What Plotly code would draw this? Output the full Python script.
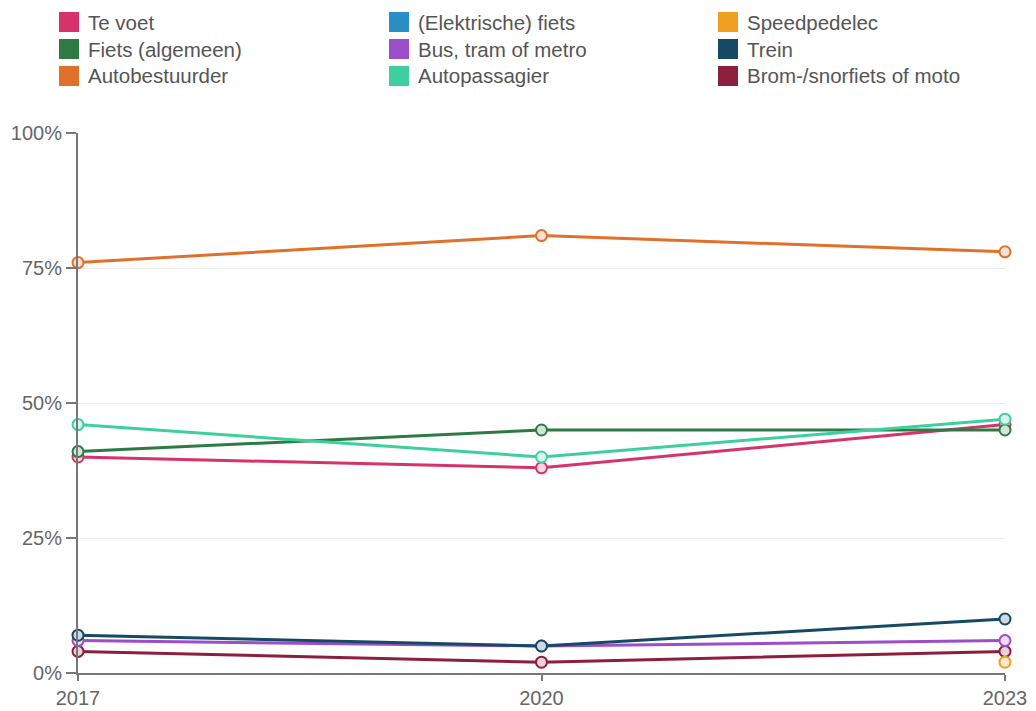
import plotly.graph_objects as go

years = [2017, 2020, 2023]

series_names = [
    "Te voet", "(Elektrische) fiets", "Speedpedelec",
    "Fiets (algemeen)", "Bus, tram of metro", "Trein",
    "Autobestuurder", "Autopassagier", "Brom-/snorfiets of moto",
]
te_voet = [40, 38, 46]
elektrische_fiets = [None, None, None]
speedpedelec = [None, None, 2]
fiets_algemeen = [41, 45, 45]
bus_tram_metro = [6, 5, 6]
trein = [7, 5, 10]
autobestuurder = [76, 81, 78]
autopassagier = [46, 40, 47]
brom_snorfiets = [4, 2, 4]

y_ticks = [0, 25, 50, 75, 100]
y_ticktext = ["0%", "25%", "50%", "75%", "100%"]

colors = {
    "Te voet": "#d6336c",
    "(Elektrische) fiets": "#2a8fc4",
    "Speedpedelec": "#f0a020",
    "Fiets (algemeen)": "#2e7a45",
    "Bus, tram of metro": "#9b4dca",
    "Trein": "#164a64",
    "Autobestuurder": "#e0702a",
    "Autopassagier": "#3ecf9e",
    "Brom-/snorfiets of moto": "#8c1f3e",
}

values = {
    "Te voet": te_voet,
    "(Elektrische) fiets": elektrische_fiets,
    "Speedpedelec": speedpedelec,
    "Fiets (algemeen)": fiets_algemeen,
    "Bus, tram of metro": bus_tram_metro,
    "Trein": trein,
    "Autobestuurder": autobestuurder,
    "Autopassagier": autopassagier,
    "Brom-/snorfiets of moto": brom_snorfiets,
}

# drawing order (later = on top)
draw_order = [
    "Brom-/snorfiets of moto", "Bus, tram of metro", "Trein", "Speedpedelec",
    "(Elektrische) fiets", "Te voet", "Fiets (algemeen)", "Autopassagier",
    "Autobestuurder",
]


def tint(hex_color, amount=0.8):
    r, g, b = (int(hex_color[i:i + 2], 16) for i in (1, 3, 5))
    r, g, b = (round(c + (255 - c) * amount) for c in (r, g, b))
    return f"rgb({r},{g},{b})"


FONT = "Liberation Sans, Arial, sans-serif"
W, H = 1036, 711
L, R, T, B = 78, 31, 133, 38
PW, PH = W - L - R, H - T - B


def px_x(px):
    return (px - L) / PW


def px_y(py):
    return (H - B - py) / PH


fig = go.Figure()

for name in draw_order:
    c = colors[name]
    fig.add_trace(go.Scatter(
        x=years, y=values[name], name=name, mode="lines+markers",
        line=dict(color=c, width=3),
        marker=dict(size=11, color=tint(c), line=dict(color=c, width=2)),
        showlegend=False, cliponaxis=False,
    ))

# manual legend: 3 columns, row-major
col_x = [59, 389, 718]
row_y = [22, 49, 76]
for i, name in enumerate(series_names):
    cx, ry = col_x[i % 3], row_y[i // 3]
    fig.add_shape(
        type="rect", xref="paper", yref="paper",
        x0=px_x(cx), x1=px_x(cx + 20), y0=px_y(ry + 10), y1=px_y(ry - 10),
        fillcolor=colors[name], line=dict(color=colors[name], width=0),
    )
    fig.add_annotation(
        text=name, xref="paper", yref="paper",
        x=px_x(cx + 27), y=px_y(ry), xanchor="left", yanchor="middle",
        showarrow=False, font=dict(size=20.5, color="#555555", family=FONT),
    )

tick_font = dict(size=20, color="#666666", family=FONT)

fig.update_layout(
    width=W, height=H,
    paper_bgcolor="white", plot_bgcolor="white",
    margin=dict(l=L, r=R, t=T, b=B, autoexpand=False),
    font=dict(family=FONT, color="#666666", size=20),
    showlegend=False,
    xaxis=dict(
        range=[2017, 2023], tickvals=years, ticktext=[str(y) for y in years],
        tickfont=tick_font,
        showgrid=False, showline=True, linecolor="#777777", linewidth=2,
        ticks="outside", ticklen=6, tickcolor="#777777", tickwidth=2,
        zeroline=False, fixedrange=True, automargin=False,
    ),
    yaxis=dict(
        range=[0, 100], tickvals=y_ticks, ticktext=y_ticktext,
        tickfont=tick_font,
        showgrid=True, gridcolor="#ececec", gridwidth=1,
        showline=True, linecolor="#777777", linewidth=2,
        ticks="outside", ticklen=10, tickcolor="#777777", tickwidth=2,
        zeroline=False, fixedrange=True, automargin=False,
    ),
)

# the page's default 8px body margin would shift the chart
fig.write_html(
    "out.html",
    config={"displayModeBar": False},
    post_script="document.body.style.margin='0';",
)
